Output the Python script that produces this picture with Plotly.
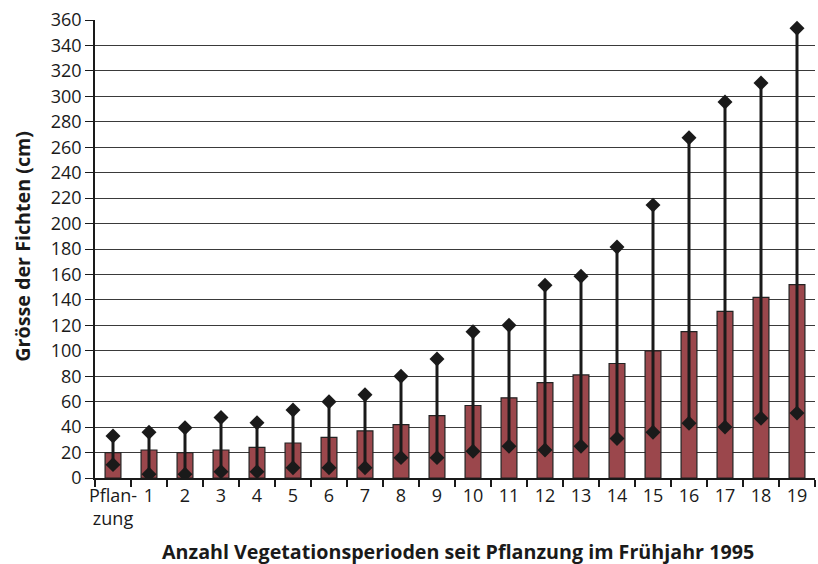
import plotly.graph_objects as go

categories = ["Pflan-<br>zung"] + [str(i) for i in range(1, 20)]
mean_vals = [20, 22, 20, 22, 24, 27.5, 32, 37, 42, 49, 57, 63, 75, 81, 90, 100, 115, 131, 142, 152]
max_vals = [33, 36, 39.5, 47.5, 43.5, 53.5, 60, 65.5, 80, 93.5, 115, 120, 151.5, 158.5, 181.5, 214.5, 267.5, 295.5, 310.5, 353.5]
min_vals = [10.5, 3, 3, 5, 5, 8, 8, 8, 16, 16, 21, 25, 22, 25, 31, 36, 43, 40, 47, 51]
y_ticks = list(range(0, 361, 20))

FONT = "Open Sans"

fig = go.Figure()
fig.add_trace(go.Bar(
    x=categories, y=mean_vals,
    marker=dict(color="#9b474c", line=dict(color="#222222", width=1.2)),
    width=0.44, showlegend=False, hoverinfo="skip",
))

lx, ly = [], []
for c, lo, hi in zip(categories, min_vals, max_vals):
    lx += [c, c, None]
    ly += [lo, hi, None]
fig.add_trace(go.Scatter(
    x=lx, y=ly, mode="lines", line=dict(color="#1a1a1a", width=3),
    showlegend=False, hoverinfo="skip",
))
fig.add_trace(go.Scatter(
    x=categories + categories, y=max_vals + min_vals, mode="markers",
    marker=dict(symbol="diamond", size=11.5, color="#1a1a1a"),
    showlegend=False, hoverinfo="skip",
))

fig.update_layout(
    width=818, height=564,
    margin=dict(l=95, r=3, t=20, b=86),
    paper_bgcolor="white", plot_bgcolor="white",
    font=dict(family=FONT, size=18, color="#1a1a1a"),
    bargap=0.56,
    xaxis=dict(
        type="category", categoryorder="array", categoryarray=categories,
        showgrid=False, showline=True, linecolor="#1a1a1a", linewidth=2,
        ticks="outside", tickson="boundaries", ticklen=7, tickwidth=1.5, tickcolor="#1a1a1a",
        tickfont=dict(family=FONT, size=18, color="#1a1a1a"), tickangle=0,
        range=[-0.5, 19.5], automargin=False,
    ),
    yaxis=dict(
        range=[0, 360], tickvals=y_ticks, showgrid=True, gridcolor="#3a3a3a", gridwidth=1,
        showline=True, linecolor="#1a1a1a", linewidth=1.5,
        ticks="outside", ticklen=8, tickwidth=1.2, tickcolor="#1a1a1a",
        tickfont=dict(family=FONT, size=18, color="#1a1a1a"),
        zeroline=False, automargin=False,
    ),
    annotations=[
        dict(text="<b>Anzahl Vegetationsperioden seit Pflanzung im Frühjahr 1995</b>",
             xref="paper", yref="paper", x=0.504, y=-0.16, xanchor="center", yanchor="middle",
             showarrow=False, font=dict(family=FONT, size=19.7, color="#1a1a1a")),
        dict(text="<b>Grösse der Fichten (cm)</b>", textangle=-90,
             xref="paper", yref="paper", x=-0.1, y=0.505, xanchor="center", yanchor="middle",
             showarrow=False, font=dict(family=FONT, size=19.7, color="#1a1a1a")),
    ],
)

fig.write_html("out.html", config={"displayModeBar": False},
               post_script="document.body.style.margin='0px';document.body.style.overflow='hidden';")
